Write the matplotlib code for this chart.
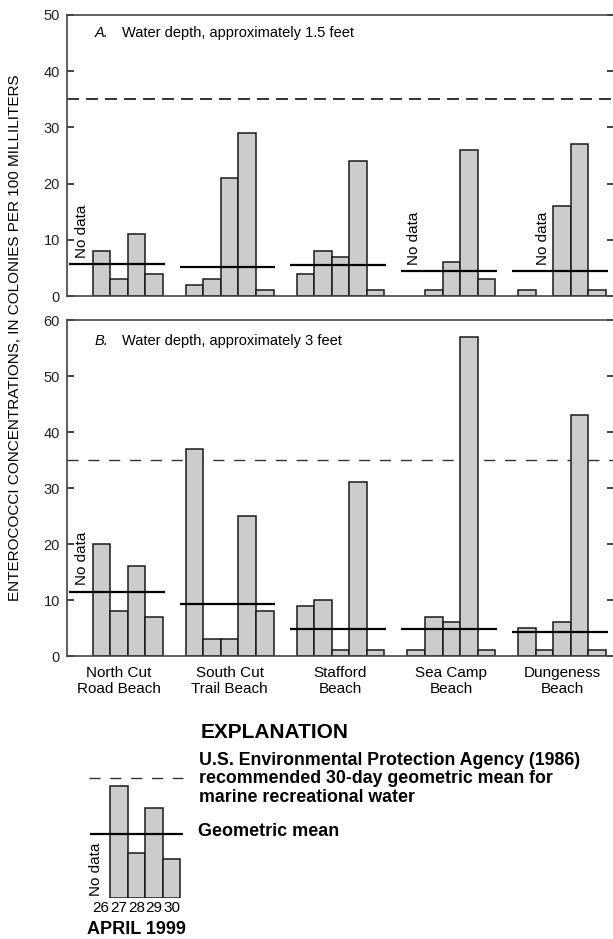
import numpy as np
import matplotlib
matplotlib.use("Agg")
import matplotlib.pyplot as plt

plt.rcParams["font.family"] = ["Liberation Sans", "DejaVu Sans"]

# --- data ---------------------------------------------------------------
beaches = ["North Cut\nRoad Beach", "South Cut\nTrail Beach", "Stafford\nBeach",
           "Sea Camp\nBeach", "Dungeness\nBeach"]
days = ["26", "27", "28", "29", "30"]
nan = np.nan

# colonies per 100 mL, April 26-30 1999 (nan = no data)
panel_a_counts = [[nan, 8, 3, 11, 4],
                  [2, 3, 21, 29, 1],
                  [4, 8, 7, 24, 1],
                  [nan, 1, 6, 26, 3],
                  [1, nan, 16, 27, 1]]
panel_a_geomean = [5.7, 5.2, 5.6, 4.45, 4.45]

panel_b_counts = [[nan, 20, 8, 16, 7],
                  [37, 3, 3, 25, 8],
                  [9, 10, 1, 31, 1],
                  [1, 7, 6, 57, 1],
                  [5, 1, 6, 43, 1]]
panel_b_geomean = [11.5, 9.2, 4.9, 4.85, 4.25]

epa_limit = 35

# explanation sketch (North Cut, 3 ft)
legend_counts = [nan, 20, 8, 16, 7]
legend_geomean = 11.5
legend_limit = 21.4

# --- layout helpers (reference is 613 x 939 px) --------------------------
W, H = 613, 939
GROUP_STEP = 6.3
BAR_FILL = "#cccccc"
EDGE = "#1a1a1a"


def fx(px):
    return px / W


def fy(py):
    return 1 - py / H


def draw_panel(ax, counts, geomeans, ymax, dash):
    for g, (vals, gm) in enumerate(zip(counts, geomeans)):
        x0 = g * GROUP_STEP
        for d, v in enumerate(vals):
            if np.isnan(v):
                ax.annotate("No data", (x0 + d - 0.1, gm), xytext=(0, 4.5),
                            textcoords="offset points", rotation=90,
                            ha="center", va="bottom", fontsize=11)
            else:
                ax.bar(x0 + d, v, width=1, color=BAR_FILL, edgecolor=EDGE,
                       lw=1.1, zorder=2)
        ax.hlines(gm, x0 - 0.85, x0 + 4.6, color="black", lw=1.6, zorder=3)
    ax.axhline(epa_limit, color=dash[0], lw=dash[1], ls=(0, dash[2]), zorder=1)

    ax.set_xlim(-0.95, 4 * GROUP_STEP + 4.95)
    ax.set_ylim(0, ymax)
    ax.set_yticks(np.arange(0, ymax + 1, 10))
    ax.tick_params(axis="y", direction="in", length=5, width=1.2, left=True,
                   right=True, labelsize=10.5, pad=5, colors="#222")
    ax.tick_params(axis="x", length=0)
    ax.spines["right"].set_visible(False)
    for s in ("left", "top", "bottom"):
        ax.spines[s].set_color("#444")
        ax.spines[s].set_linewidth(1.2)


fig = plt.figure(figsize=(W / 100, H / 100), dpi=100)

ax_a = fig.add_axes([fx(67), fy(296), fx(614 - 67), (296 - 15) / H])
draw_panel(ax_a, panel_a_counts, panel_a_geomean, 50, ("#111", 1.2, (7.2, 4.2)))
ax_a.set_xticks([])

ax_b = fig.add_axes([fx(67), fy(656), fx(614 - 67), (656 - 320) / H])
draw_panel(ax_b, panel_b_counts, panel_b_geomean, 60, ("#333", 1.0, (8, 7)))
ax_b.set_xticks([g * GROUP_STEP + 2 for g in range(len(beaches))])
ax_b.set_xticklabels(beaches, fontsize=11, linespacing=1.2)
ax_b.tick_params(axis="x", pad=7)

# panel titles
for label, text, py in [("A.", "Water depth, approximately 1.5 feet", 33),
                        ("B.", "Water depth, approximately 3 feet", 341)]:
    fig.text(fx(95), fy(py), label, style="italic", fontsize=10.5, va="center")
    fig.text(fx(121.5), fy(py), text, fontsize=10.5, va="center")

fig.text(fx(15), fy(338), "ENTEROCOCCI CONCENTRATIONS, IN COLONIES PER 100 MILLILITERS",
         rotation=90, ha="center", va="center", fontsize=11)

# --- explanation ---------------------------------------------------------
px_per_unit_x, px_per_unit_y = 546.5 / 31.1, 5.6
lx0, lw_px, lh_px = 85, 105, 130
ax_l = fig.add_axes([fx(lx0), fy(898), fx(lw_px), lh_px / H])
xl = -0.5 - (92.4 - lx0) / px_per_unit_x
ax_l.set_xlim(xl, xl + lw_px / px_per_unit_x)
ax_l.set_ylim(0, lh_px / px_per_unit_y)
for d, v in enumerate(legend_counts):
    if np.isnan(v):
        ax_l.text(d - 0.3, 0.4, "No data", rotation=90, ha="center",
                  va="bottom", fontsize=11)
    else:
        ax_l.bar(d, v, width=1, color=BAR_FILL, edgecolor=EDGE, lw=1.1, zorder=2)
ax_l.hlines(legend_geomean, -0.64, 4.66, color="black", lw=1.6, zorder=3)
ax_l.hlines(legend_limit, -0.69, 4.66, color="#333", lw=1.0, ls=(0, (8, 7)))
ax_l.set_yticks([])
ax_l.set_xticks(range(len(days)))
ax_l.set_xticklabels(days, fontsize=11)
ax_l.tick_params(axis="x", length=0, pad=2)
for s in ax_l.spines.values():
    s.set_visible(False)
ax_l.patch.set_visible(False)

fig.text(fx(136.5), fy(930), "APRIL 1999", ha="center", va="center",
         fontsize=13, fontweight="bold")
fig.text(fx(201), fy(732), "EXPLANATION", va="center", fontsize=15,
         fontweight="bold")
fig.text(fx(199), fy(752), "U.S. Environmental Protection Agency (1986)\n"
         "recommended 30-day geometric mean for\nmarine recreational water",
         va="top", fontsize=12.8, fontweight="bold", linespacing=1.1)
fig.text(fx(198), fy(831), "Geometric mean", va="center", fontsize=13,
         fontweight="bold")

fig.savefig("out.png", dpi=100)
